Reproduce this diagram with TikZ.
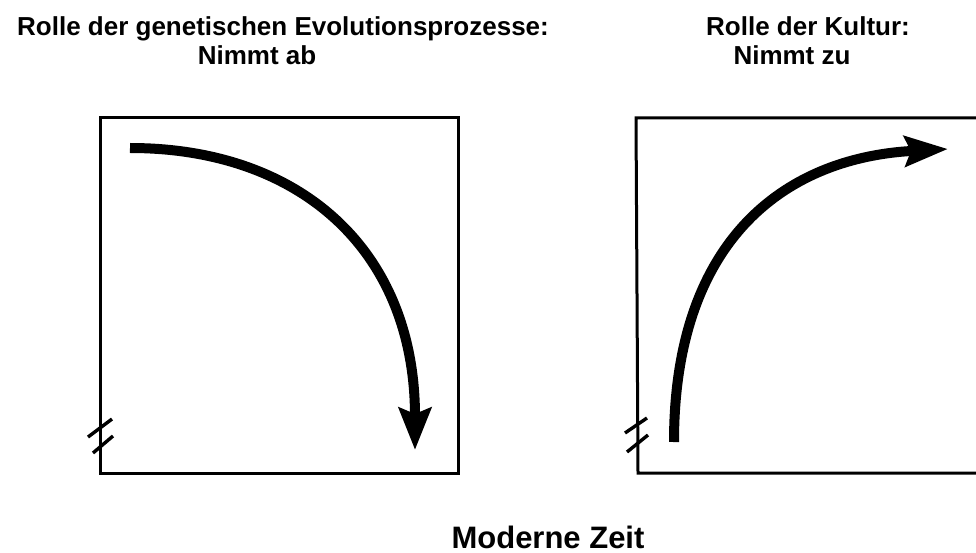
\documentclass[tikz,border=0pt]{standalone}
\usepackage{fontspec}
\setmainfont{Liberation Sans}
\usetikzlibrary{arrows.meta}
\begin{document}
\begin{tikzpicture}[x=1pt,y=-1pt,
  frame/.style={line width=3pt, line join=miter},
  brk/.style={line width=3.4pt},
  bigarrow/.style={line width=10pt, line cap=butt},
  title/.style={font=\bfseries\fontsize{26}{30}\selectfont, anchor=base, inner sep=0pt},
  bigtitle/.style={font=\bfseries\fontsize{31}{36}\selectfont, anchor=base, inner sep=0pt}
]
\useasboundingbox (0,0) rectangle (976,553);

% titles
\node[title] (t1) at (283,36) {Rolle der genetischen Evolutionsprozesse:};
\node[title] (t2) at (257,65) {Nimmt ab};
\node[title] (t3) at (808,36) {Rolle der Kultur:};
\node[title] (t4) at (792,65) {Nimmt zu};
\node[bigtitle] (t5) at (548,548) {Moderne Zeit};

% left box
\coordinate (lTL) at (100,118);
\coordinate (lBR) at (458,473);
\draw[frame] (lTL) rectangle (lBR);
\draw[brk] (88,437) -- (112,419);
\draw[brk] (93,453) -- (113,436);

% right box (cut off at right edge)
\coordinate (rTL) at (636,118);
\coordinate (rBL) at (638,473);
\coordinate (rTR) at (976,118);
\coordinate (rBR) at (976,473);
\draw[frame] (rTR) -- (rTL) -- (rBL) -- (rBR);
\draw[brk] (625,433) -- (647,418);
\draw[brk] (627,452) -- (648,435);

% arrows
\coordinate (la) at (130,148);
\coordinate (lb) at (415,450);
\draw[bigarrow,-{Stealth[length=42pt,width=32pt,inset=6pt]}]
  (la) .. controls (300,148) and (415,250) .. (lb);

\coordinate (ra) at (674,442);
\coordinate (rb) at (948,149);
\draw[bigarrow,-{Stealth[length=43pt,width=30pt,inset=6pt]}]
  (ra) .. controls (674,245) and (780,158) .. (rb);
\end{tikzpicture}
\end{document}
